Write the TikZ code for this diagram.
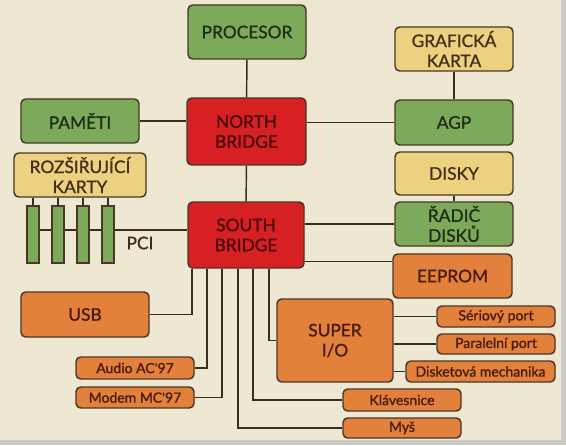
\documentclass[tikz,border=0pt]{standalone}
\usepackage{fontspec}
\setmainfont{Lato}
\newfontfamily\boxfont{Lato}[FakeBold=0.9]
\usetikzlibrary{calc}

\definecolor{paper}{RGB}{238,232,211}
\definecolor{frame}{RGB}{205,203,196}
\definecolor{edge}{RGB}{72,56,38}
\definecolor{wire}{RGB}{58,44,30}
\definecolor{grn}{RGB}{124,170,90}
\definecolor{grntext}{RGB}{30,44,22}
\definecolor{rd}{RGB}{214,32,36}
\definecolor{rdtext}{RGB}{72,10,10}
\definecolor{ylw}{RGB}{236,210,128}
\definecolor{ylwtext}{RGB}{64,46,22}
\definecolor{orng}{RGB}{226,128,60}
\definecolor{orngtext}{RGB}{70,26,10}

\tikzset{
  sz/.style 2 args={minimum width=#1*0.75pt, minimum height=#2*0.75pt},
  blok/.style={draw=edge, line width=1.1pt, rounded corners=3.5pt, inner sep=0pt, align=center,
    font=\boxfont\fontsize{13}{15}\selectfont},
  greenbox/.style={blok, fill=grn, text=grntext},
  redbox/.style={blok, fill=rd, text=rdtext},
  yellowbox/.style={blok, fill=ylw, text=ylwtext},
  orangebox/.style={blok, fill=orng, text=orngtext},
  smallbox/.style={orangebox, font=\boxfont\fontsize{10.5}{12}\selectfont},
  slotbox/.style={draw=edge, line width=0.9pt, fill=grn, inner sep=0pt, sz={12}{57}},
  wireline/.style={draw=wire, line width=1.1pt}
}

\begin{document}
\begin{tikzpicture}[x=0.75pt,y=0.75pt,yscale=-1,xscale=1]
%Background
\fill [frame] (0,0) rectangle (566,445);
\fill [paper] (0,0) rectangle (561,440);
\useasboundingbox (0,0) rectangle (566,445);

%Rounded Rect: north side
\node [greenbox, sz={118}{54}] (proc) at (247,32) {PROCESOR};
\node [redbox, sz={119}{67}] (nb) at (246.5,131.5) {NORTH\\BRIDGE};
\node [greenbox, sz={118}{44}] (pam) at (80,121) {PAMĚTI};
\node [yellowbox, sz={118}{44}] (graf) at (454,49) {GRAFICKÁ\\KARTA};
\node [greenbox, sz={118}{45}] (agp) at (454,122.5) {AGP};
\node [yellowbox, sz={118}{43}] (disky) at (454,173.5) {DISKY};

%Rounded Rect: south side
\node [redbox, sz={116}{66}] (sb) at (246,235) {SOUTH\\BRIDGE};
\node [yellowbox, sz={132}{44}] (karty) at (80,175) {ROZŠIŘUJÍCÍ\\KARTY};
\node [greenbox, sz={118}{44}] (radic) at (454,224) {ŘADIČ\\DISKŮ};
\node [orangebox, sz={119}{44}] (eeprom) at (452.5,276) {EEPROM};
\node [orangebox, sz={116}{83}] (sio) at (335,340.5) {SUPER\\I/O};
\node [orangebox, sz={128}{45}] (usb) at (85,314.5) {USB};

%Small boxes
\node [smallbox, sz={118}{21}] (ser) at (496,316.5) {Sériový port};
\node [smallbox, sz={118}{20}] (par) at (496,344) {Paralelní port};
\node [smallbox, sz={149}{21}] (disk) at (480.5,371.5) {Disketová mechanika};
\node [smallbox, sz={118}{22}] (klav) at (402,400) {Klávesnice};
\node [smallbox, sz={118}{20}] (mys) at (402,428) {Myš};
\node [smallbox, sz={118}{22}] (audio) at (135,368) {Audio AC'97};
\node [smallbox, sz={118}{21}] (modem) at (135,397.5) {Modem MC'97};

%Straight Lines
\draw [wireline] (proc) -- (nb);
\draw [wireline] (nb) -- (sb);
\draw [wireline] (pam.east) -- (pam.east -| nb.west);
\draw [wireline] (agp.west) -- (agp.west -| nb.east);
\draw [wireline] (graf) -- (agp);
\draw [wireline] (disky) -- (radic);
\draw [wireline] (radic.west) -- (radic.west -| sb.east);
\draw [wireline] (sb.south east) ++(0,-7) coordinate (ee) -- (ee -| eeprom.west);
\draw [wireline] (ser.west) -- (ser.west -| sio.east);
\draw [wireline] (par.west) -- (par.west -| sio.east);
\draw [wireline] (disk.west) -- (disk.west -| sio.east);

%PCI bus and slots
\draw [wireline] (sb.west) ++(0,-5) coordinate (pb) -- (pb -| 33,0);
\foreach \n/\xx in {1/33,2/58,3/83,4/108}{
  \node [slotbox] (slot\n) at (\xx,234.5) {};
  \draw [wireline] (slot\n.north) -- (slot\n.north |- karty.south);
}
% Text Node
\node [text=wire, font=\boxfont\fontsize{13}{15}\selectfont, inner sep=0pt] (pci) at (140,243) {PCI};

%Connectors below south bridge
\draw [wireline] ([xshift=-40.5pt]sb.south) |- (usb.east);
\draw [wireline] ([xshift=-29.25pt]sb.south) |- (audio.east);
\draw [wireline] ([xshift=-18pt]sb.south) |- (modem.east);
\draw [wireline] ([xshift=-6pt]sb.south) |- (mys.west);
\draw [wireline] ([xshift=5.25pt]sb.south) |- (klav.west);
\draw [wireline] ([xshift=17.25pt]sb.south) |- (sio.west);

\end{tikzpicture}
\end{document}
